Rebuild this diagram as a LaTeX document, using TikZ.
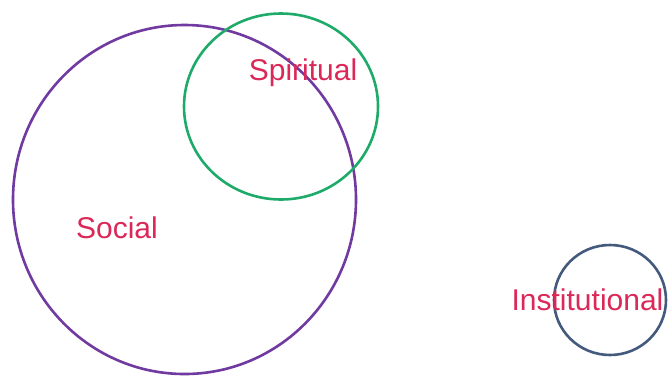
\documentclass[tikz,border=0pt]{standalone}
\usepackage{fontspec}
\setmainfont{Liberation Sans}
\usepackage{tikz}
\usetikzlibrary{positioning}
\usepackage{xcolor}
\definecolor{socialcolor}{RGB}{112,58,160}
\definecolor{spiritcolor}{RGB}{30,170,105}
\definecolor{instcolor}{RGB}{68,90,125}
\definecolor{labelcolor}{RGB}{218,40,88}

\begin{document}
\begin{tikzpicture}[x=1pt, y=-1pt, every node/.style={font=\fontsize{30}{36}\selectfont, text=labelcolor, anchor=base, inner sep=0pt}]
    \useasboundingbox (0,0) rectangle (669,376);
    \draw[socialcolor, line width=2.6pt] (184.5,199.5) ellipse [x radius=171.5, y radius=174.5];
    \draw[spiritcolor, line width=2.6pt] (281,106.5) ellipse [x radius=97, y radius=93];
    \draw[instcolor,   line width=2.6pt] (610,300) ellipse [x radius=56, y radius=55];
    \node (spiritual) at (303,80)   {Spiritual};
    \node (social)    at (117,238)  {Social};
    \node (inst)      at (587.5,310) {Institutional};
  \end{tikzpicture}
\end{document}
